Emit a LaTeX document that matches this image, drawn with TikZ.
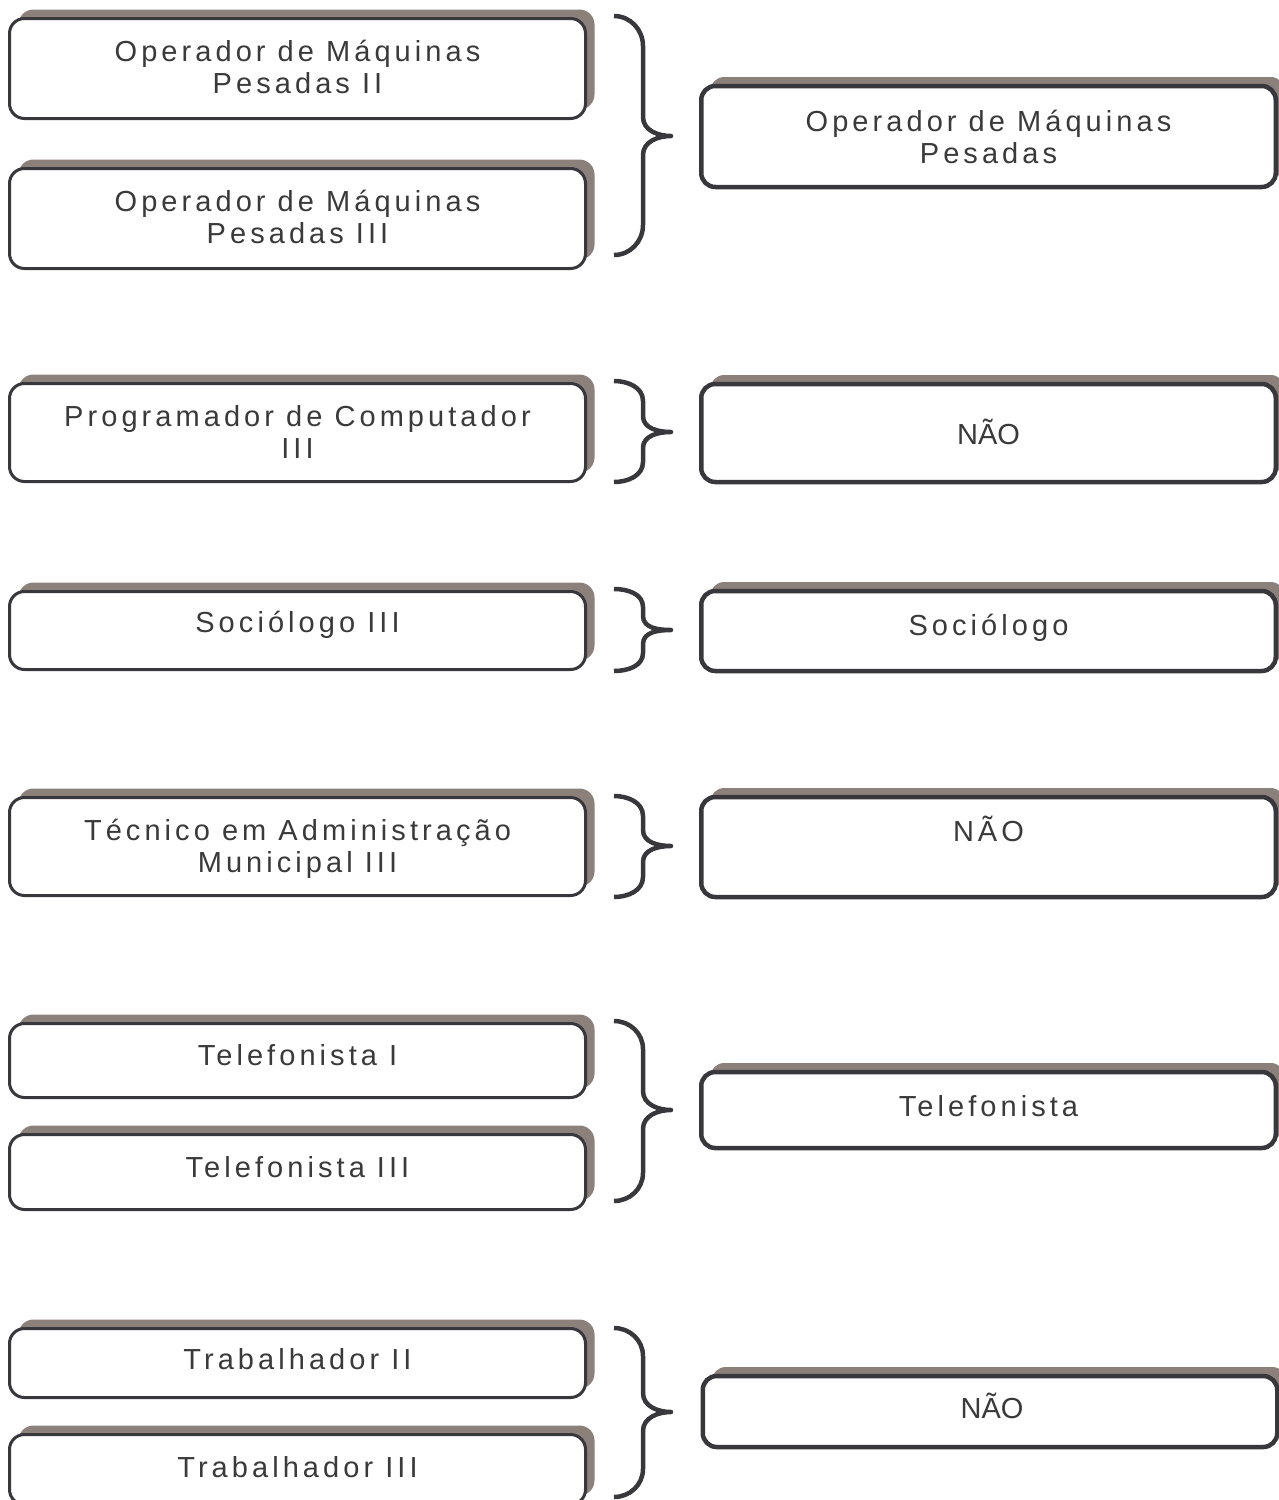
\documentclass[tikz,border=0pt]{standalone}
\usepackage{fontspec}
\setmainfont{Liberation Sans}
\newfontfamily\spc[LetterSpace=14]{Liberation Sans}
\usetikzlibrary{shadows}
\definecolor{shc}{HTML}{8C807B}
\definecolor{bdc}{HTML}{38373C}
\definecolor{txc}{HTML}{3A3A3A}
\tikzset{
  lbox/.style={draw=bdc, line width=3pt, fill=white, rounded corners=15pt,
    minimum width=576pt, inner sep=0pt,
    drop shadow={shadow xshift=9pt, shadow yshift=9pt, opacity=1, fill=shc}},
  rbox/.style={lbox, line width=4.5pt, rounded corners=14pt, minimum width=574.5pt},
  lbl/.style={anchor=base, text=txc, inner sep=0pt,
    font=\spc\fontsize{29}{32}\selectfont},
  lblns/.style={lbl, font=\rmfamily\fontsize{29}{32}\selectfont},
  brc/.style={draw=bdc, line width=4.5pt, line join=round},
}
\newcommand\twol[2]{\begin{tabular}[t]{@{}c@{}}#1\\#2\end{tabular}}
\begin{document}
\begin{tikzpicture}[x=1pt,y=1pt]
\useasboundingbox (0,0) rectangle (1279,-1500);
\clip (0,0) rectangle (1279,-1500);
% left boxes
\node[lbox, minimum height=100pt] (l1) at (297.5,-68.5) {};
\node[lbox, minimum height=100pt] (l2) at (297.5,-218.5) {};
\node[lbox, minimum height=98pt] (l3) at (297.5,-432.5) {};
\node[lbox, minimum height=78pt] (l4) at (297.5,-630.5) {};
\node[lbox, minimum height=98pt] (l5) at (297.5,-846.5) {};
\node[lbox, minimum height=74pt] (l6) at (297.5,-1060.5) {};
\node[lbox, minimum height=75pt] (l7) at (297.5,-1172) {};
\node[lbox, minimum height=69pt] (l8) at (297.5,-1363) {};
\node[lbox, minimum height=70pt] (l9) at (297.5,-1469.5) {};
% right boxes
\node[rbox, minimum height=101pt] (r1) at (988.5,-136.5) {};
\node[rbox, minimum height=98pt] (r3) at (988.5,-433) {};
\node[rbox, minimum height=80pt] (r4) at (988.5,-631) {};
\node[rbox, minimum height=100pt] (r5) at (988.5,-847) {};
\node[rbox, minimum height=76pt] (r6) at (988.5,-1110) {};
\node[rbox, minimum height=71pt] (r8) at (990,-1411.5) {};
% labels
\node[lbl] (t1) at (297.5,-61) {\twol{Operador de Máquinas}{Pesadas II}};
\node[lbl] (t2) at (297.5,-211) {\twol{Operador de Máquinas}{Pesadas III}};
\node[lbl] (t3) at (297.5,-426) {\twol{Programador de Computador}{III}};
\node[lbl] (t4) at (297.5,-632) {Sociólogo III};
\node[lbl] (t5) at (297.5,-840) {\twol{Técnico em Administração}{Municipal III}};
\node[lbl] (t6) at (297.5,-1065) {Telefonista I};
\node[lbl] (t7) at (297.5,-1177) {Telefonista III};
\node[lbl] (t8) at (297.5,-1369) {Trabalhador II};
\node[lbl] (t9) at (297.5,-1477) {Trabalhador III};
\node[lbl] (u1) at (988.5,-131) {\twol{Operador de Máquinas}{Pesadas}};
\node[lblns] (u3) at (988.5,-444) {NÃO};
\node[lbl] (u4) at (988.5,-635) {Sociólogo};
\node[lbl] (u5) at (988.5,-841) {NÃO};
\node[lbl] (u6) at (988.5,-1116) {Telefonista};
\node[lblns] (u8) at (992,-1418) {NÃO};
% braces
\draw[brc] (614,-16) to[out=0,in=90] (643,-46) -- (643,-117) to[out=-90,in=180] (671,-136)
  to[out=180,in=90] (643,-155) -- (643,-225) to[out=-90,in=0] (614,-255);
\draw[brc] (614,-381) to[out=0,in=90] (643,-401) -- (643,-416) to[out=-90,in=180] (671,-432)
  to[out=180,in=90] (643,-448) -- (643,-462) to[out=-90,in=0] (614,-482);
\draw[brc] (614,-589) to[out=0,in=90] (643,-607) -- (643,-616) to[out=-90,in=180] (671,-630)
  to[out=180,in=90] (643,-644) -- (643,-653) to[out=-90,in=0] (614,-671);
\draw[brc] (614,-796) to[out=0,in=90] (643,-816) -- (643,-830) to[out=-90,in=180] (671,-846)
  to[out=180,in=90] (643,-862) -- (643,-877) to[out=-90,in=0] (614,-897);
\draw[brc] (614,-1021) to[out=0,in=90] (643,-1049) -- (643,-1091) to[out=-90,in=180] (671,-1110)
  to[out=180,in=90] (643,-1129) -- (643,-1173) to[out=-90,in=0] (614,-1201);
\draw[brc] (614,-1328) to[out=0,in=90] (643,-1356) -- (643,-1393) to[out=-90,in=180] (671,-1412)
  to[out=180,in=90] (643,-1431) -- (643,-1469) to[out=-90,in=0] (614,-1497);
\end{tikzpicture}
\end{document}
